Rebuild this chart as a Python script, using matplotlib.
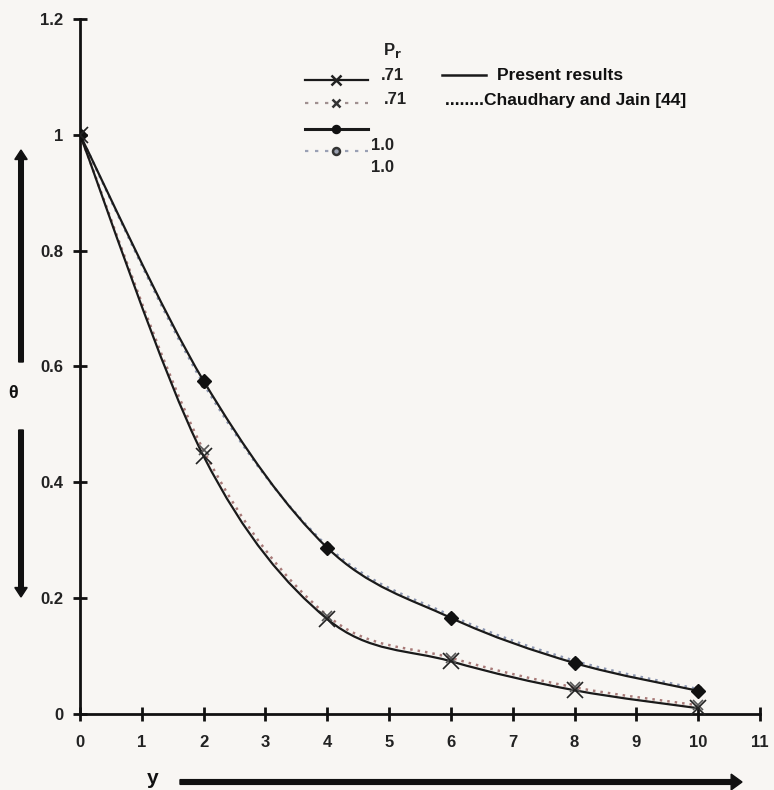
import numpy as np
import matplotlib
matplotlib.use("Agg")
import matplotlib.pyplot as plt
from matplotlib.path import Path
from matplotlib.patches import PathPatch, FancyArrow
from matplotlib.lines import Line2D

# ---- data ----
y_pos = [0, 2, 4, 6, 8, 10]
present_071 = [1.0, 0.445, 0.164, 0.091, 0.041, 0.010]
chaudhary_071 = [1.0, 0.455, 0.170, 0.097, 0.046, 0.015]
present_10 = [1.0, 0.575, 0.287, 0.166, 0.088, 0.040]
chaudhary_10 = [1.0, 0.570, 0.290, 0.170, 0.092, 0.043]
x_ticks = list(range(0, 12))
y_ticks = [0, 0.2, 0.4, 0.6, 0.8, 1, 1.2]
y_ticklabels = ["0", "0.2", "0.4", "0.6", "0.8", "1", "1.2"]

BG = "#f8f6f3"
W, H = 774, 790
plt.rcParams['font.family'] = ['Liberation Sans', 'DejaVu Sans']

fig = plt.figure(figsize=(W / 100, H / 100), dpi=100, facecolor=BG)
ax = fig.add_axes([80 / W, 1 - 714 / H, (760 - 80) / W, (714 - 19) / H])
ax.set_facecolor(BG)


def smooth_path(xs, ys):
    pts = np.column_stack([xs, ys]).astype(float)
    n = len(pts)
    verts = [pts[0]]
    codes = [Path.MOVETO]
    for i in range(n - 1):
        p0 = pts[i - 1] if i > 0 else pts[i]
        p1 = pts[i]
        p2 = pts[i + 1]
        p3 = pts[i + 2] if i + 2 < n else pts[i + 1]
        c1 = p1 + (p2 - p0) / 6.0
        c2 = p2 - (p3 - p1) / 6.0
        verts += [c1, c2, p2]
        codes += [Path.CURVE4] * 3
    return Path(verts, codes)


def curve(xs, ys, **kw):
    ax.add_patch(PathPatch(smooth_path(xs, ys), fill=False, **kw))


C71 = "#a87a78"
C10 = "#8c96b0"
curve(y_pos, chaudhary_071, edgecolor=C71, lw=1.8, linestyle=(0, (1, 2)), zorder=3)
curve(y_pos, chaudhary_10, edgecolor=C10, lw=1.8, linestyle=(0, (1, 2)), zorder=3)
curve(y_pos, present_071, edgecolor="#1a1a1a", lw=1.6, zorder=4)
curve(y_pos, present_10, edgecolor="#1a1a1a", lw=1.6, zorder=4)

ax.plot(y_pos, chaudhary_10, ls="none", marker="o", ms=5, mfc="#9aa0b0", mec="#333333", zorder=5)
ax.plot(y_pos, present_10, ls="none", marker="D", ms=7, color="#111111", zorder=6)
ax.plot(y_pos, chaudhary_071, ls="none", marker="x", ms=7, mew=1.2, color="#555555", zorder=5)
ax.plot(y_pos, present_071, ls="none", marker="x", ms=11, mew=1.2, color="#222222", zorder=6)

ax.set_xlim(0, 11)
ax.set_ylim(0, 1.2)
ax.set_xticks(x_ticks)
ax.set_xticklabels([str(t) for t in x_ticks])
ax.set_yticks(y_ticks)
ax.set_yticklabels(y_ticklabels)
for s in ["top", "right"]:
    ax.spines[s].set_visible(False)
for s in ["left", "bottom"]:
    ax.spines[s].set_linewidth(2)
    ax.spines[s].set_color("#111111")
ax.tick_params(direction="inout", length=10, width=2, color="#111111",
               labelsize=12, pad=7, labelcolor="#222222")
for lab in ax.get_xticklabels() + ax.get_yticklabels():
    lab.set_fontweight("bold")
ax.tick_params(axis="x", pad=10)


def fx(px):
    return px / W


def fy(py):
    return 1 - py / H


# ---- legend (custom layout) ----
fig.text(fx(392), fy(50), "P$_\\mathbf{r}$", fontsize=12, fontweight="bold",
         ha="center", va="center", color="#222222")
tr = fig.transFigure
samples = [
    (80, "-", "#1a1a1a", "x", 7, "#222222", 1.6),
    (103, (0, (1.5, 3)), "#a09090", "x", 6, "#333333", 1.6),
    (129, "-", "#1a1a1a", "o", 5, "#111111", 2.2),
    (151, (0, (1.5, 3)), "#9aa0b4", "o", 5, "#333333", 1.6),
]
for py, ls, col, mk, ms, mcol, lw in samples:
    fig.add_artist(Line2D([fx(305), fx(368)], [fy(py), fy(py)], transform=tr,
                          ls=ls, color=col, lw=lw))
    fig.add_artist(Line2D([fx(336)], [fy(py)], transform=tr, ls="none",
                          marker=mk, ms=ms, mew=1.8, color=mcol,
                          mfc=mcol if mk != "o" or py == 129 else "#9aa0b0"))
for px, py, t in [(392, 76, ".71"), (395, 100, ".71"), (382, 145, "1.0"), (382, 168, "1.0")]:
    fig.text(fx(px), fy(py), t, fontsize=12, fontweight="bold", ha="center",
             va="center", color="#222222")

fig.add_artist(Line2D([fx(442), fx(486)], [fy(75), fy(75)], transform=tr,
                      color="#1a1a1a", lw=1.8))
fig.text(fx(497), fy(75), "Present results", fontsize=12.5, fontweight="bold",
         ha="left", va="center", color="#111111")
fig.text(fx(445), fy(100), "........Chaudhary and Jain [44]", fontsize=12.5,
         fontweight="bold", ha="left", va="center", color="#111111")

# ---- axis labels with arrows ----
fig.text(fx(13), fy(393), "θ", fontsize=13, fontweight="bold", ha="center",
         va="center", color="#111111")
fig.text(fx(153), fy(778), "y", fontsize=15, fontweight="bold", ha="center",
         va="center", color="#111111")

fig.add_artist(FancyArrow(fx(21), fy(362), 0, fy(150) - fy(362), width=0.006,
                          head_width=0.016, head_length=0.012,
                          length_includes_head=True, color="#111111",
                          transform=tr))
fig.add_artist(FancyArrow(fx(21), fy(430), 0, fy(597) - fy(430), width=0.006,
                          head_width=0.016, head_length=0.012,
                          length_includes_head=True, color="#111111",
                          transform=tr))
fig.add_artist(FancyArrow(fx(180), fy(782), fx(742) - fx(180), 0, width=0.006,
                          head_width=0.02, head_length=0.014,
                          length_includes_head=True, color="#111111",
                          transform=tr))

fig.savefig("out.png", dpi=100, facecolor=BG)
